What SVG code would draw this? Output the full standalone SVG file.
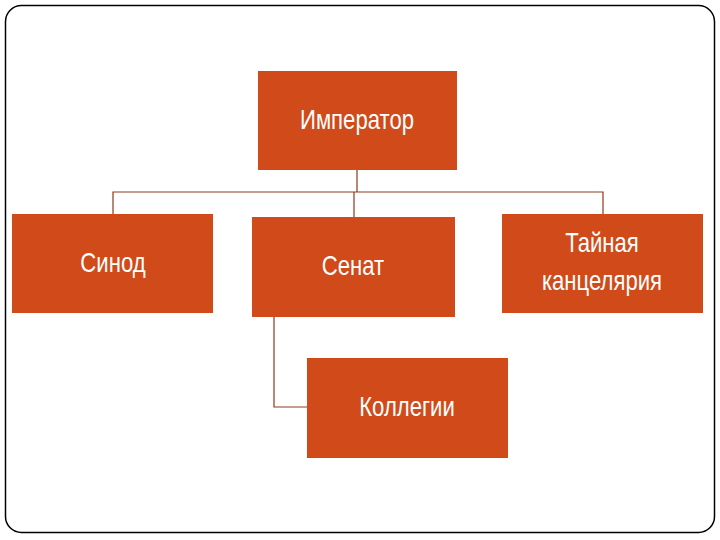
<svg xmlns="http://www.w3.org/2000/svg" width="720" height="540" viewBox="0 0 720 540">
<style>
.box{fill:#D14A19}
.t{font-family:"Liberation Sans",Arial,sans-serif;font-size:27px;fill:#fff;text-anchor:middle}
.c{fill:none;stroke:#8B3A1C;stroke-width:1.2}
</style>
<rect x="0" y="0" width="720" height="540" fill="#fff"/>
<rect x="5.5" y="5.5" width="709" height="527" rx="16" fill="none" stroke="#000" stroke-width="1.5"/>
<g id="connectors">
<path class="c" d="M357 170V192M113 214V192H603V214M354 192V217M274 317V407H307"/>
</g>
<g id="imperator"><rect class="box" x="258" y="71" width="199" height="99"/><text class="t" transform="translate(357,129) scale(0.82,1)">Император</text></g>
<g id="sinod"><rect class="box" x="12" y="214" width="201" height="99"/><text class="t" transform="translate(113,272) scale(0.82,1)">Синод</text></g>
<g id="senat"><rect class="box" x="252" y="217" width="203" height="100"/><text class="t" transform="translate(353,275) scale(0.82,1)">Сенат</text></g>
<g id="tainaya"><rect class="box" x="502" y="214" width="201" height="99"/><text class="t" transform="translate(602,252) scale(0.82,1)">Тайная</text><text class="t" transform="translate(602,290) scale(0.82,1)">канцелярия</text></g>
<g id="kollegii"><rect class="box" x="307" y="358" width="201" height="100"/><text class="t" transform="translate(407,416) scale(0.82,1)">Коллегии</text></g>
</svg>
